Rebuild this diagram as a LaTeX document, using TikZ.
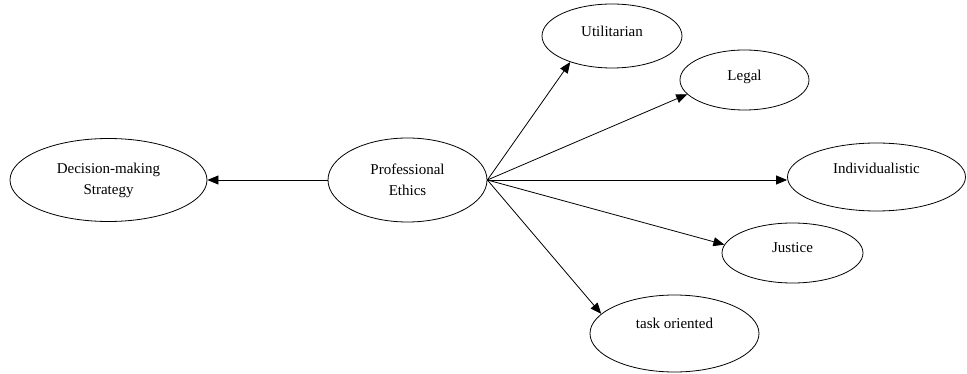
\documentclass[tikz,border=0pt]{standalone}
\usepackage{fontspec}
\setmainfont{Liberation Serif}
\usetikzlibrary{shapes.geometric}
\usetikzlibrary{arrows.meta}
\tikzset{
  every node/.style = {font = \fontsize{15}{21}\selectfont}
}
\tikzset{
    >={Triangle[length=11pt,width=9pt]}
}
\tikzset{
  oval/.style = {draw, ellipse, inner sep=0pt, line width=0.8pt, align=center},
  lift/.style = {text height=11pt, text depth=#1}
}

\begin{document}
\begin{tikzpicture}[x=1pt,y=-1pt,line width=0.8pt]
\useasboundingbox (0,0) rectangle (967,374);

% The ellipses
\node[oval,minimum width=197pt,minimum height=83pt] (dms) at (108.5,180)
  {Decision-making\\Strategy};
\node[oval,minimum width=159pt,minimum height=84pt] (pe) at (407.5,180)
  {Professional\\Ethics};
\node[oval,lift=9pt,minimum width=140pt,minimum height=64pt] (util) at (612,36)
  {Utilitarian};
\node[oval,lift=9pt,minimum width=129pt,minimum height=60pt] (legal) at (744.5,80)
  {Legal};
\node[oval,lift=17pt,minimum width=178pt,minimum height=68pt] (indiv) at (876.5,177)
  {Individualistic};
\node[oval,lift=11pt,minimum width=141pt,minimum height=60pt] (just) at (792.5,253)
  {Justice};
\node[oval,lift=22pt,minimum width=169pt,minimum height=77pt] (task) at (674.5,333.5)
  {task oriented};

% Arrows
\draw[->] (pe.west) -- (pe.west -| dms.east);
\draw[->] (pe.east) -- (util.212);
\draw[->] (pe.east) -- (legal.194);
\draw[->] (pe.east) -- (pe.east -| indiv.west);
\draw[->] (pe.east) -- (just.173);
\draw[->] (pe.east) -- (task.165);
\end{tikzpicture}
\end{document}
